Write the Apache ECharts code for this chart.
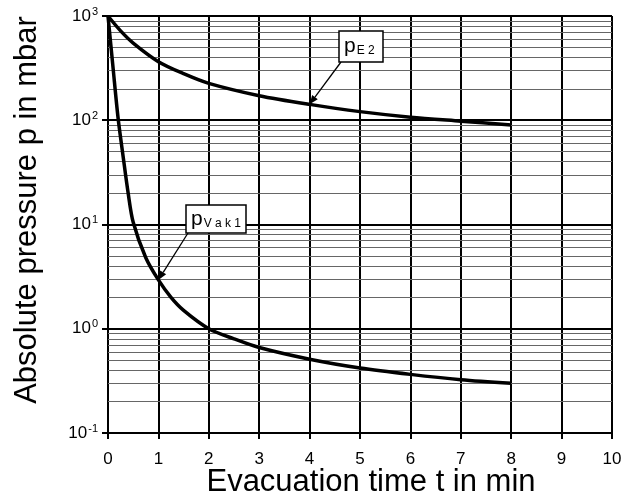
<!DOCTYPE html>
<html>
<head>
<meta charset="utf-8">
<script src="https://cdn.jsdelivr.net/npm/echarts@6/dist/echarts.min.js"></script>
<style>
html,body{margin:0;padding:0;background:#fff;}
#c{width:637px;height:501px;}
</style>
</head>
<body>
<div id="c"></div>
<script>
// ---- data ----
var tE2 = [0, 0.25, 0.5, 1, 1.5, 2, 3, 4, 5, 6, 7, 8];
var pE2 = [1000, 720, 550, 365, 280, 226, 172, 142, 121, 107, 98, 90];
var tVak1 = [0, 0.1, 0.2, 0.3, 0.4, 0.5, 0.75, 1, 1.25, 1.5, 2, 2.5, 3, 4, 5, 6, 7, 8];
var pVak1 = [1000, 320, 105, 45, 20, 10.5, 4.8, 2.94, 2.0, 1.5, 1.0, 0.8, 0.66, 0.51, 0.42, 0.365, 0.325, 0.30];
var minorGrid = [0.2,0.3,0.4,0.5,0.6,0.7,0.8,0.9, 2,3,4,5,6,7,8,9, 20,30,40,50,60,70,80,90, 200,300,400,500,600,700,800,900];
var xTitle = 'Evacuation time t in min';
var yTitle = 'Absolute pressure p in mbar';
var labelE2 = {main: 'p', sub: 'E2', t: 4};
var labelVak1 = {main: 'p', sub: 'Vak1', t: 1};

var FONT = '"Liberation Sans", Arial, sans-serif';
function zip(a, b) { return a.map(function (v, i) { return [v, b[i]]; }); }

var chart = echarts.init(document.getElementById('c'), null, {renderer: 'canvas'});
var option = {
  animation: false,
  backgroundColor: '#fff',
  grid: {left: 108, right: 25, top: 16, bottom: 68, containLabel: false},
  xAxis: {
    type: 'value', min: 0, max: 10, interval: 1,
    axisLine: {show: true, onZero: false, lineStyle: {color: '#000', width: 2}},
    axisTick: {show: true, inside: false, length: 6, lineStyle: {color: '#000', width: 2}},
    axisLabel: {color: '#000', fontSize: 17, fontFamily: FONT, margin: 18},
    splitLine: {show: true, lineStyle: {color: '#000', width: 2}}
  },
  yAxis: {
    type: 'log', logBase: 10, min: 0.1, max: 1000,
    axisLine: {show: true, onZero: false, lineStyle: {color: '#000', width: 2}},
    axisTick: {show: true, inside: false, length: 6, lineStyle: {color: '#000', width: 2}},
    axisLabel: {
      color: '#000', fontFamily: FONT, margin: 10,
      formatter: function (v) {
        var e = Math.round(Math.log(v) / Math.LN10);
        return '{b|10}{s|' + e + '}';
      },
      rich: {
        b: {fontSize: 17, fontFamily: FONT, color: '#000'},
        s: {fontSize: 11, fontFamily: FONT, color: '#000', verticalAlign: 'bottom', padding: [0, 0, 9, 1]}
      }
    },
    splitLine: {show: true, lineStyle: {color: '#000', width: 2}}
  },
  series: [
    {
      type: 'line', name: 'grid', data: [], silent: true,
      markLine: {
        silent: true, symbol: 'none', label: {show: false},
        lineStyle: {color: '#666', width: 1, type: 'solid'},
        data: minorGrid.map(function (v) { return {yAxis: v}; })
      },
      z: 1
    },
    {
      type: 'line', name: 'pE2', data: zip(tE2, pE2), smooth: 0.3, showSymbol: false,
      lineStyle: {color: '#000', width: 3.5}, z: 5
    },
    {
      type: 'line', name: 'pVak1', data: zip(tVak1, pVak1), smooth: 0.3, showSymbol: false,
      lineStyle: {color: '#000', width: 3.5}, z: 5
    }
  ]
};
chart.setOption(option);

function interpLog(ts, ps, t) {
  for (var i = 0; i < ts.length - 1; i++) {
    if (t >= ts[i] && t <= ts[i + 1]) {
      var f = (t - ts[i]) / (ts[i + 1] - ts[i]);
      return Math.exp(Math.log(ps[i]) + f * (Math.log(ps[i + 1]) - Math.log(ps[i])));
    }
  }
  return ps[ps.length - 1];
}

function callout(box, lbl, ts, ps) {
  var tip = chart.convertToPixel({gridIndex: 0}, [lbl.t, interpLog(ts, ps, lbl.t)]);
  var sx = box.x + 2, sy = box.y + box.h;
  var ang = Math.atan2(tip[1] - sy, tip[0] - sx);
  var hl = 9, hw = 3.5;
  var bx = tip[0] - hl * Math.cos(ang), by = tip[1] - hl * Math.sin(ang);
  var px = -Math.sin(ang) * hw, py = Math.cos(ang) * hw;
  return [
    {type: 'line', shape: {x1: sx, y1: sy, x2: bx, y2: by}, style: {stroke: '#000', lineWidth: 1.3}, z: 20},
    {type: 'polygon', shape: {points: [[tip[0], tip[1]], [bx + px, by + py], [bx - px, by - py]]}, style: {fill: '#000'}, z: 20},
    {type: 'rect', shape: {x: box.x, y: box.y, width: box.w, height: box.h}, style: {fill: '#fff', stroke: '#000', lineWidth: 1.5}, z: 21},
    {type: 'text', x: box.x + 5, y: box.y + box.h / 2, z: 22,
      style: {text: '{m|' + lbl.main + '}{s|' + lbl.sub.split('').join(' ') + '}', verticalAlign: 'middle', align: 'left',
        rich: {m: {fontSize: 21, fontFamily: FONT, fill: '#000'},
               s: {fontSize: 12, fontFamily: FONT, fill: '#000', verticalAlign: 'bottom', padding: [7, 0, 0, 1]}}}}
  ];
}

var g = [
  {type: 'text', x: 371, y: 482, z: 30, style: {text: xTitle, fontSize: 31, fontFamily: FONT, fill: '#000', align: 'center', verticalAlign: 'middle'}},
  {type: 'text', x: 27, y: 210, rotation: Math.PI / 2, z: 30, style: {text: yTitle, fontSize: 31, fontFamily: FONT, fill: '#000', align: 'center', verticalAlign: 'middle'}}
];
g = g.concat(callout({x: 339, y: 31, w: 44, h: 31}, labelE2, tE2, pE2));
g = g.concat(callout({x: 186, y: 205, w: 60, h: 28}, labelVak1, tVak1, pVak1));
chart.setOption({graphic: g});
</script>
</body>
</html>
